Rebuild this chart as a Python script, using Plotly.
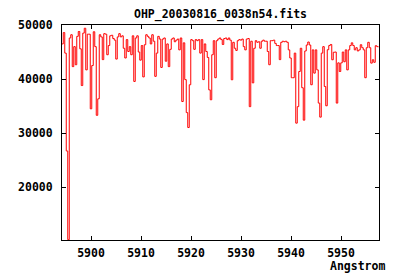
import plotly.graph_objects as go

# Spectrum sampling (evenly spaced, like a FITS header CRVAL/CDELT)
wavelength_start = 5894.15
wavelength_step = 0.3

flux = [
    46500, 48600, 44800, 26700, 10300, 47600, 48200, 42300, 46000, 42650,
    47900, 48800, 45600, 38800, 48500, 49400, 41700, 48300, 48300, 34500,
    42500, 48750, 46000, 33300, 36350, 48200, 47800, 43600, 48400, 48300,
    44500, 46200, 48000, 48100, 47500, 47200, 43700, 47800, 48400, 47800,
    48000, 45700, 43900, 47300, 45100, 46000, 44500, 48000, 39560, 47600,
    48000, 45000, 43500, 46200, 40400, 46350, 48200, 47900, 47600, 46500,
    48200, 47000, 40500, 44800, 47900, 47400, 42150, 47400, 47600, 43300,
    46500, 42300, 45500, 47400, 47600, 46900, 47200, 47400, 45400, 47600,
    35850, 46700, 39900, 33800, 31040, 38950, 47300, 47100, 45500, 47300,
    47100, 47300, 44800, 47300, 39900, 46500, 45100, 44000, 38000, 36170,
    44500, 47100, 40250, 47100, 47400, 47600, 47300, 46400, 47500, 47600,
    47300, 47600, 47200, 39870, 46800, 45700, 45300, 47100, 47300, 47200,
    47400, 46000, 45400, 47400, 47500, 34900, 47000, 39300, 45700, 47100,
    46800, 46900, 45700, 47000, 47200, 47000, 47000, 45100, 42650, 47100,
    47100, 47200, 46600, 46200, 46200, 43600, 46800, 47000, 46900, 47000,
    46800, 45400, 43900, 40250, 40250, 44800, 31850, 34900, 41400, 45700,
    38400, 32400, 45200, 46300, 46850, 46300, 38950, 45400, 41100, 45400,
    41700, 35560, 32960, 44800, 46000, 38630, 35060, 45430, 46200, 46400,
    43570, 44960, 45000, 35560, 43000, 41400, 43000, 45000, 43200, 45400,
    41700, 45400, 46200, 46700, 46200, 45400, 45800, 45200, 45400, 46350,
    45800, 45400, 40250, 45800, 46800, 45800, 42950, 43570, 43100, 46170,
    46000, 45900,
]

x_ticks = [5900, 5910, 5920, 5930, 5940, 5950]
y_ticks = [20000, 30000, 40000, 50000]
x_range = [5894.2, 5957.6]
y_range = [10240, 50000]
title_text = "OHP_20030816_0038n54.fits"
x_label = "Angstrom"

FONT = "DejaVu Sans Mono"

fig = go.Figure(
    go.Scatter(
        x0=wavelength_start,
        dx=wavelength_step,
        y=flux,
        mode="lines",
        line=dict(color="#ff0000", width=1, shape="hv"),
        hoverinfo="skip",
        showlegend=False,
    )
)

axis_common = dict(
    showline=True,
    linecolor="black",
    linewidth=1,
    mirror="ticks",
    ticks="inside",
    ticklen=4,
    tickcolor="black",
    tickwidth=1,
    showgrid=False,
    zeroline=False,
    tickfont=dict(family=FONT, size=11.5, color="black", weight="bold"),
)

fig.update_xaxes(range=x_range, tickvals=x_ticks, ticktext=[str(v) for v in x_ticks],
                 ticklabelstandoff=2, **axis_common)
fig.update_yaxes(range=y_range, tickvals=y_ticks, ticktext=[str(v) for v in y_ticks],
                 ticklabelstandoff=6, **axis_common)

fig.update_layout(
    width=400,
    height=280,
    margin=dict(l=62, r=21, t=25, b=40, pad=0),
    paper_bgcolor="white",
    plot_bgcolor="white",
    title=dict(
        text=title_text,
        x=220.5 / 400,
        xanchor="center",
        y=1 - 14 / 280,
        yanchor="middle",
        font=dict(family=FONT, size=11.5, color="black", weight="bold"),
    ),
    annotations=[
        dict(
            text=x_label,
            xref="paper",
            yref="paper",
            x=(387 - 62) / 317,
            xanchor="right",
            y=(240 - 266) / 215,
            yanchor="middle",
            showarrow=False,
            font=dict(family=FONT, size=11.5, color="black", weight="bold"),
        )
    ],
)

fig.write_html("out.html")
